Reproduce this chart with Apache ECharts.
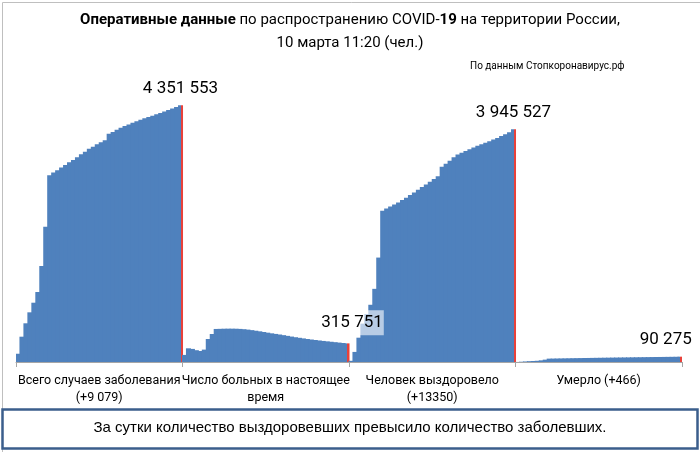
<!DOCTYPE html>
<html>
<head>
<meta charset="utf-8">
<script src="https://cdn.jsdelivr.net/npm/echarts@6/dist/echarts.min.js"></script>
<style>html,body{margin:0;padding:0;background:#fff}#c{width:700px;height:452px}</style>
</head>
<body>
<div id="c"></div>
<script>
// Category (group) labels
const categories = ['Всего случаев заболевания\n(+9 079)', 'Число больных в настоящее\nвремя', 'Человек выздоровело\n(+13350)', 'Умерло (+466)'];
// Each group: 8 monthly points (May–Dec 2020), then points from Jan 2021 to 10 March 2021
const totalCases = [140000, 429000, 656000, 842000, 1005000, 1186000, 1627000, 2293000,
  3165000, 3210000, 3250000, 3295000, 3340000, 3385000, 3425000, 3470000, 3520000, 3565000,
  3615000, 3650000, 3690000, 3725000, 3760000, 3870000, 3900000, 3935000, 3970000, 4000000,
  4027000, 4053000, 4080000, 4106000, 4130000, 4153000, 4175000, 4198000, 4222000, 4246000,
  4270000, 4295000, 4320000, 4351553];
const activeCases = [120000, 232000, 222000, 200000, 186000, 210000, 390000, 475000,
  560000, 562000, 564000, 565000, 565000, 564000, 561000, 556000, 549000, 540000,
  530000, 520000, 509000, 497000, 486000, 476000, 466000, 455000, 443000, 431000,
  420000, 410000, 400000, 390000, 381000, 373000, 365000, 357000, 350000, 343000,
  336000, 329000, 322000, 315751];
const recovered = [20000, 171000, 412000, 650000, 812000, 970000, 1240000, 1770000,
  2565000, 2600000, 2635000, 2670000, 2705000, 2745000, 2785000, 2830000, 2875000, 2920000,
  2965000, 3010000, 3056000, 3100000, 3150000, 3310000, 3360000, 3410000, 3470000, 3515000,
  3545000, 3575000, 3605000, 3635000, 3665000, 3690000, 3715000, 3740000, 3770000, 3795000,
  3830000, 3860000, 3895000, 3945527];
const deaths = [1100, 4700, 9300, 14000, 17300, 20700, 28000, 40000,
  57000, 58200, 59400, 60600, 61800, 63000, 64100, 65200, 66300, 67400,
  68500, 69600, 70600, 71600, 72600, 73600, 74600, 75600, 76500, 77400,
  78300, 79200, 80100, 81000, 81900, 82800, 83700, 84500, 85300, 86100,
  86900, 87700, 88600, 90275];

const groups = [totalCases, activeCases, recovered, deaths];
const BLUE = '#4F81BD', RED = '#E8413A';
const fmt = v => String(v).replace(/\B(?=(\d{3})+(?!\d))/g, ' ');

const names = [], data = [];
groups.forEach((g, gi) => {
  g.forEach((v, i) => {
    names.push(gi + '-' + i);
    if (i === g.length - 1) {
      data.push({
        value: v,
        itemStyle: {
          color: new echarts.graphic.LinearGradient(0, 0, 1, 0, [
            {offset: 0, color: BLUE}, {offset: 0.5, color: BLUE},
            {offset: 0.5, color: RED}, {offset: 1, color: RED}])
        },
        label: {
          show: true, position: 'top', distance: 8,
          formatter: p => fmt(p.value),
          fontSize: 17, fontFamily: 'Roboto', color: '#000',
          offset: gi === 3 ? [-14, 0] : (gi === 1 ? [5, 0] : [0, 0]),
          backgroundColor: gi === 1 ? 'rgba(255,255,255,0.6)' : 'transparent',
          padding: gi === 1 ? [4, 1] : 0
        }
      });
    } else {
      data.push(v);
    }
  });
});

const chart = echarts.init(document.getElementById('c'), null, {renderer: 'canvas'});
chart.setOption({
  animation: false,
  backgroundColor: '#fff',
  grid: {left: 16, right: 18, top: 67, bottom: 90, containLabel: false},
  xAxis: [
    {type: 'category', data: names, show: false, position: 'bottom', boundaryGap: true},
    {type: 'category', data: categories, position: 'bottom', boundaryGap: true,
     axisLine: {show: true, lineStyle: {color: '#a6a6a6', width: 1}},
     axisTick: {show: true, length: 5, lineStyle: {color: '#a6a6a6'}},
     axisLabel: {interval: 0, fontSize: 12.5, fontFamily: 'Roboto', color: '#000', lineHeight: 17, margin: 10},
     splitLine: {show: false}}
  ],
  yAxis: {type: 'value', min: 0, max: 5000000, show: false, splitLine: {show: false}},
  series: [{
    type: 'bar', xAxisIndex: 0, data: data,
    barWidth: 5,
    itemStyle: {color: BLUE},
    emphasis: {disabled: true}
  }],
  graphic: [
    {type: 'rect', left: 0, top: 0, z: -10, shape: {x: 0.5, y: 0.5, width: 699, height: 451},
     style: {fill: 'none', stroke: '#bfbfbf', lineWidth: 1}},
    {type: 'text', x: 350, y: 20, style: {
      text: '{b|Оперативные данные} по распространению COVID-{b|19} на территории России,',
      rich: {b: {fontWeight: 'bold', fontSize: 15, fontFamily: 'Roboto', fill: '#000'}},
      fontSize: 15, fontFamily: 'Roboto', fill: '#000', textAlign: 'center', textVerticalAlign: 'middle'}},
    {type: 'text', x: 350, y: 43, style: {
      text: '10 марта 11:20 (чел.)', fontSize: 15, fontFamily: 'Roboto', fill: '#000',
      textAlign: 'center', textVerticalAlign: 'middle'}},
    {type: 'text', x: 470, y: 66, style: {
      text: 'По данным Стопкоронавирус.рф', fontSize: 10, fontFamily: 'Roboto', fill: '#000',
      textAlign: 'left', textVerticalAlign: 'middle'}},
    {type: 'rect', shape: {x: 2.5, y: 409.5, width: 695, height: 39},
     style: {fill: '#fff', stroke: '#3B5E8C', lineWidth: 2.5}},
    {type: 'text', x: 350, y: 428, style: {
      text: 'За сутки количество выздоровевших превысило количество заболевших.',
      fontSize: 15, fontFamily: 'Liberation Sans', fill: '#000',
      textAlign: 'center', textVerticalAlign: 'middle'}}
  ]
});
</script>
</body>
</html>
